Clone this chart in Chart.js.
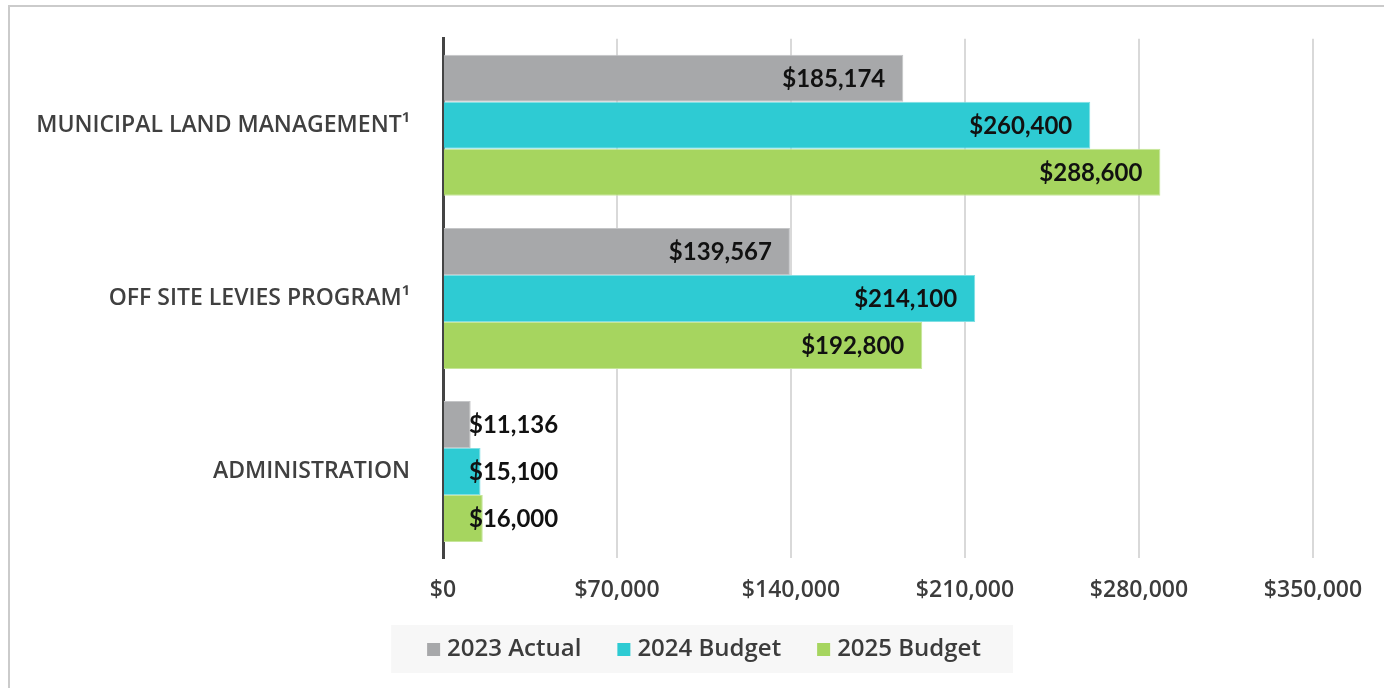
<!DOCTYPE html>
<html>
<head>
<meta charset="utf-8">
<script src="https://cdn.jsdelivr.net/npm/chart.js@4/dist/chart.umd.min.js"></script>
<style>
  html, body { margin: 0; padding: 0; background: #fff; }
  #wrap { width: 1384px; height: 688px; position: relative; }
</style>
</head>
<body>
<div id="wrap"><canvas id="main_chart_canvas" width="1384" height="688"></canvas></div>
<script>
const categories = ['MUNICIPAL LAND MANAGEMENT\u00B9', 'OFF SITE LEVIES PROGRAM\u00B9', 'ADMINISTRATION'];
const seriesNames = ['2023 Actual', '2024 Budget', '2025 Budget'];
const actual2023 = [185174, 139567, 11136];
const budget2024 = [260400, 214100, 15100];
const budget2025 = [288600, 192800, 16000];
const xTicks = [0, 70000, 140000, 210000, 280000, 350000];

const colours = ['#a7a8aa', '#2ecbd3', '#a6d55f'];
const edgeColours = ['#c4c5c7', '#7fdfe4', '#c6e69a'];
const FONT = 'Lato';
const TEXT_FONT = '"Open Sans"';

const money = v => '$' + v.toLocaleString('en-US');

// outer frame, white background
const framePlugin = {
  id: 'frame',
  beforeDraw(chart) {
    const c = chart.ctx;
    c.save();
    c.fillStyle = '#fff';
    c.fillRect(0, 0, chart.width, chart.height);
    c.strokeStyle = '#cbcbcb';
    c.lineWidth = 2;
    c.strokeRect(9, 6, chart.width + 20, chart.height + 20);
    c.restore();
  }
};

// value labels at the bar ends
const valueLabels = {
  id: 'valueLabels',
  afterDatasetsDraw(chart) {
    const c = chart.ctx;
    c.save();
    c.font = `bold 24px ${FONT}`;
    c.fillStyle = '#111';
    c.textBaseline = 'middle';
    c.textAlign = 'left';
    chart.data.datasets.forEach((ds, i) => {
      chart.getDatasetMeta(i).data.forEach((bar, j) => {
        const txt = money(ds.data[j]);
        const w = c.measureText(txt).width;
        let left = bar.x - 18 - w;
        if (left < bar.base + 25) left = bar.base + 25;
        c.fillText(txt, left, bar.y + 1);
      });
    });
    c.restore();
  }
};

// legend box under the axis
const legendBox = {
  id: 'legendBox',
  afterDraw(chart) {
    const c = chart.ctx;
    c.save();
    c.font = `600 24px ${TEXT_FONT}`;
    const items = chart.data.datasets.map(ds => ({ label: ds.label, color: ds.backgroundColor, w: c.measureText(ds.label).width }));
    const gap = 36;
    const total = items.reduce((s, it) => s + 20 + it.w, 0) + gap * (items.length - 1);
    let x = 704 - total / 2;
    c.fillStyle = '#f7f7f7';
    c.fillRect(x - 36, 625, total + 68, 48);
    c.textBaseline = 'middle';
    items.forEach(it => {
      c.fillStyle = it.color;
      c.fillRect(x, 643, 13, 13);
      c.fillStyle = '#3c3c3c';
      c.fillText(it.label, x + 20, 649);
      x += 20 + it.w + gap;
    });
    c.restore();
  }
};

const makeSet = (label, data, i) => ({
  label,
  data,
  backgroundColor: colours[i],
  borderColor: edgeColours[i],
  borderWidth: 1,
  borderSkipped: 'left',
  categoryPercentage: 0.815,
  barPercentage: 1
});

const ctx = document.getElementById('main_chart_canvas').getContext('2d');
new Chart(ctx, {
  type: 'bar',
  data: {
    labels: categories,
    datasets: [
      makeSet(seriesNames[0], actual2023, 0),
      makeSet(seriesNames[1], budget2024, 1),
      makeSet(seriesNames[2], budget2025, 2)
    ]
  },
  options: {
    indexAxis: 'y',
    responsive: false,
    animation: false,
    layout: { padding: { left: 0, right: 71, top: 38, bottom: 0 } },
    scales: {
      x: {
        min: 0,
        max: 350000,
        afterBuildTicks: s => { s.ticks = xTicks.map(v => ({ value: v })); },
        afterFit: s => { s.height = 130; },
        grid: {
          color: ctx => ctx.tick && ctx.tick.value === 0 ? 'rgba(0,0,0,0)' : '#d9d9d9',
          lineWidth: 2,
          drawTicks: false
        },
        border: { display: false },
        ticks: {
          padding: 19,
          color: '#3c3c3c',
          font: { family: TEXT_FONT, size: 23, weight: '600' },
          callback: v => money(v)
        }
      },
      y: {
        afterFit: s => { s.width = 443; },
        grid: { display: false },
        border: { display: true, color: '#444', width: 3 },
        ticks: {
          padding: 25,
          color: '#404040',
          font: { family: TEXT_FONT, size: 23, weight: '600' }
        }
      }
    },
    plugins: {
      legend: { display: false },
      tooltip: { enabled: false }
    }
  },
  plugins: [framePlugin, valueLabels, legendBox]
});
</script>
</body>
</html>
